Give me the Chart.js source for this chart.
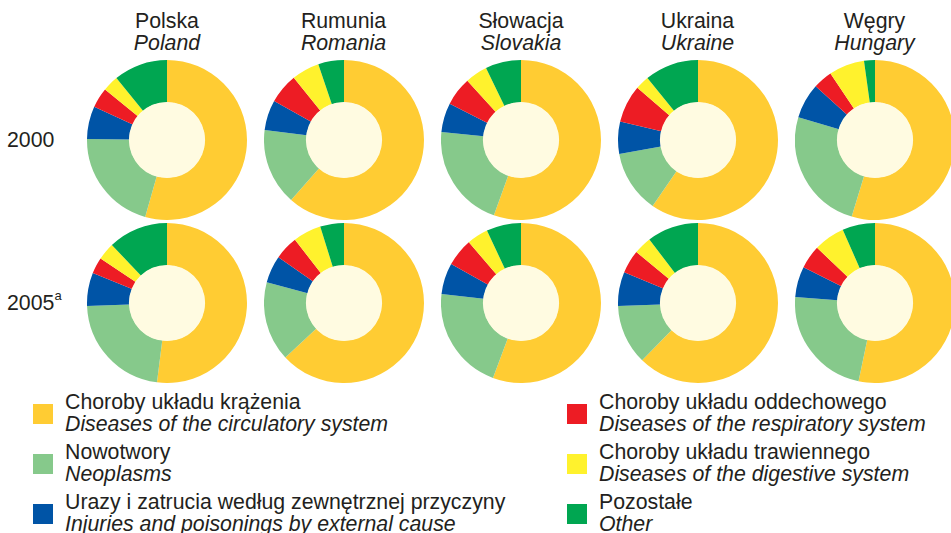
<!DOCTYPE html>
<html>
<head>
<meta charset="utf-8">
<script src="https://cdn.jsdelivr.net/npm/chart.js@4.4.0/dist/chart.umd.min.js"></script>
<style>
  html, body { margin: 0; padding: 0; background: #fff; }
  body {
    width: 951px; height: 533px; overflow: hidden; position: relative;
    font-family: 'Liberation Sans', Arial, sans-serif; color: #231f20;
    font-size: 21.3px; line-height: 22px;
  }
  .pie { position: absolute; width: 160px; height: 160px; }
  .head { position: absolute; top: 10px; width: 170px; text-align: center; }
  .row { position: absolute; left: 7px; }
  .row sup { font-size: 13px; position: relative; top: -3px; vertical-align: top; line-height: 13px; }
  .leg { position: absolute; }
  .leg .sw { position: absolute; width: 20px; height: 20px; left: 0; top: 13px; }
  .leg .txt { position: absolute; white-space: nowrap; }
  i { font-style: italic; }
</style>
</head>
<body>
<script>
// Categories (clockwise from 12 o'clock)
const categoriesPl = ['Choroby układu krążenia', 'Nowotwory', 'Urazy i zatrucia według zewnętrznej przyczyny',
  'Choroby układu oddechowego', 'Choroby układu trawiennego', 'Pozostałe'];
const categoriesEn = ['Diseases of the circulatory system', 'Neoplasms', 'Injuries and poisonings by external cause',
  'Diseases of the respiratory system', 'Diseases of the digestive system', 'Other'];

const countriesPl = ['Polska', 'Rumunia', 'Słowacja', 'Ukraina', 'Węgry'];
const countriesEn = ['Poland', 'Romania', 'Slovakia', 'Ukraine', 'Hungary'];
const years = ['2000', '2005'];

// Shares of deaths (%)
const poland2000   = [54.4, 20.8, 6.6, 4.1, 3.2, 10.9];
const romania2000  = [61.5, 15.5, 6.1, 6.1, 5.6, 5.2];
const slovakia2000 = [55.5, 21.1, 5.9, 5.8, 4.5, 7.2];
const ukraine2000  = [59.6, 12.6, 6.5, 7.6, 2.8, 10.9];
const hungary2000  = [54.7, 24.9, 7.1, 3.9, 7.2, 2.2];

const poland2005   = [52.0, 22.4, 6.7, 3.3, 3.5, 12.1];
const romania2005  = [63.1, 16.1, 5.5, 4.8, 5.7, 4.8];
const slovakia2005 = [55.7, 21.1, 6.3, 5.6, 4.3, 7.0];
const ukraine2005  = [62.3, 12.1, 6.9, 4.7, 3.6, 10.4];
const hungary2005  = [53.3, 22.9, 6.2, 4.7, 6.3, 6.6];

const seriesByYear = [
  [poland2000, romania2000, slovakia2000, ukraine2000, hungary2000],
  [poland2005, romania2005, slovakia2005, ukraine2005, hungary2005]
];

const colors = ['#ffcc33', '#86c98b', '#0054a6', '#ed1c24', '#fff22d', '#00a651'];
const cream = '#fffbe1';

// layout
const colX = [167, 343.5, 521, 697.5, 874.5];
const rowY = [140.3, 302.5];

const creamCenter = {
  id: 'creamCenter',
  afterDatasetsDraw(chart) {
    const arc = chart.getDatasetMeta(0).data[0];
    if (!arc) return;
    const ctx = chart.ctx;
    ctx.save();
    ctx.beginPath();
    ctx.arc(arc.x, arc.y, arc.innerRadius + 0.5, 0, Math.PI * 2);
    ctx.fillStyle = cream;
    ctx.fill();
    ctx.restore();
  }
};

// headers
countriesPl.forEach((c, i) => {
  const d = document.createElement('div');
  d.className = 'head';
  d.style.left = (colX[i] - 85) + 'px';
  d.innerHTML = c + '<br><i>' + countriesEn[i] + '</i>';
  document.body.appendChild(d);
});

// row labels
const r1 = document.createElement('div');
r1.className = 'row';
r1.style.top = (rowY[0] - 11) + 'px';
r1.textContent = years[0];
document.body.appendChild(r1);
const r2 = document.createElement('div');
r2.className = 'row';
r2.style.top = (rowY[1] - 11) + 'px';
r2.innerHTML = years[1] + '<sup>a</sup>';
document.body.appendChild(r2);

// doughnuts
seriesByYear.forEach((row, r) => {
  row.forEach((vals, c) => {
    const wrap = document.createElement('div');
    wrap.className = 'pie';
    wrap.style.left = (colX[c] - 80) + 'px';
    wrap.style.top = (rowY[r] - 80) + 'px';
    const cv = document.createElement('canvas');
    cv.width = 160; cv.height = 160;
    wrap.appendChild(cv);
    document.body.appendChild(wrap);
    new Chart(cv.getContext('2d'), {
      type: 'doughnut',
      data: {
        labels: categoriesEn,
        datasets: [{
          data: vals,
          backgroundColor: colors,
          borderWidth: 0
        }]
      },
      options: {
        responsive: false,
        animation: false,
        events: [],
        cutout: '47%',
        layout: { padding: 0 },
        plugins: {
          legend: { display: false },
          tooltip: { enabled: false }
        }
      },
      plugins: [creamCenter]
    });
  });
});

// legend (two columns, three rows)
const legPos = [
  [33, 391], [33, 441], [33, 491],
  [567, 391], [567, 441], [567, 491]
];
categoriesPl.forEach((name, i) => {
  const d = document.createElement('div');
  d.className = 'leg';
  d.style.left = legPos[i][0] + 'px';
  d.style.top = legPos[i][1] + 'px';
  const sw = document.createElement('div');
  sw.className = 'sw';
  sw.style.background = colors[i];
  const t = document.createElement('div');
  t.className = 'txt';
  t.style.left = '32px';
  t.innerHTML = name + '<br><i>' + categoriesEn[i] + '</i>';
  d.appendChild(sw);
  d.appendChild(t);
  document.body.appendChild(d);
});
</script>
</body>
</html>
